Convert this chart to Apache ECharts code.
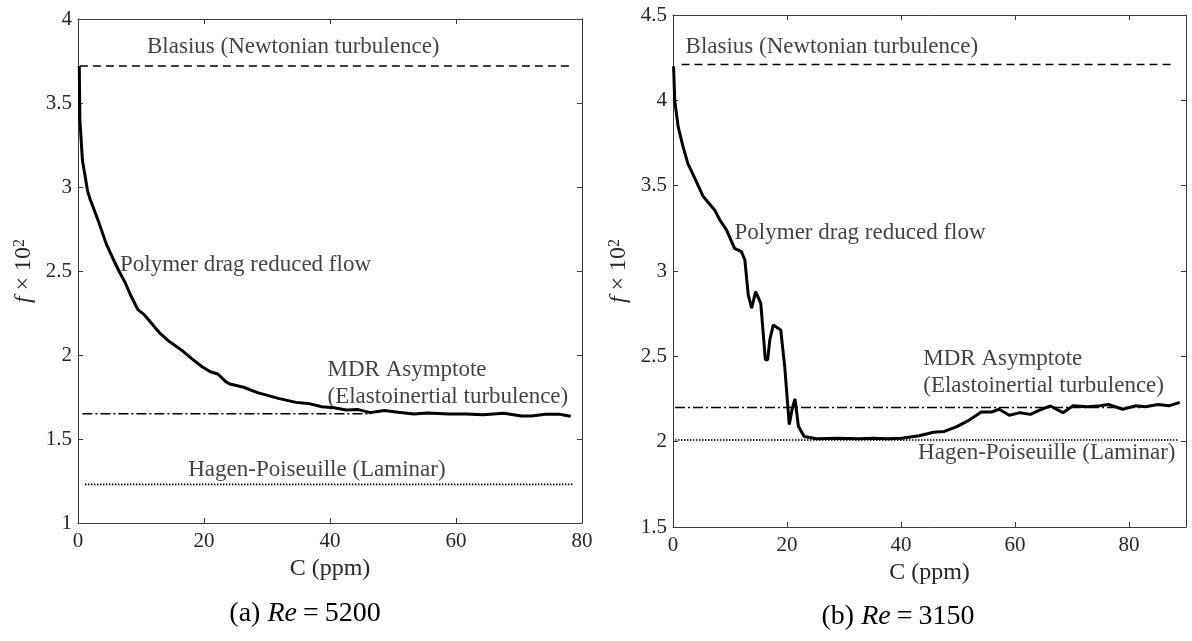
<!DOCTYPE html>
<html>
<head>
<meta charset="utf-8">
<script src="https://cdn.jsdelivr.net/npm/echarts@6/dist/echarts.min.js"></script>
<style>
  html, body { margin: 0; padding: 0; background: #fff; }
  #main { width: 1192px; height: 641px; }
</style>
</head>
<body>
<div id="main"></div>
<script>
// ---- data (C in ppm, f x 10^2) ----
// (a) Re = 5200
const curveA = [[0.2,3.72],[0.3,3.40],[0.7,3.16],[1.5,2.98],[1.9,2.93],[3.2,2.80],[4.5,2.66],[5.6,2.57],[6.5,2.50],[7.5,2.43],[8.3,2.36],[9.5,2.27],[10.5,2.24],[11.2,2.21],[13.0,2.13],[14.5,2.08],[16.4,2.03],[18.0,1.98],[19.7,1.93],[21.0,1.90],[22.2,1.887],[23.5,1.84],[24.1,1.827],[26.3,1.808],[28.5,1.776],[31.8,1.742],[34.6,1.718],[36.5,1.712],[38.7,1.692],[40.6,1.686],[42.6,1.673],[44.5,1.675],[46.4,1.657],[48.6,1.669],[50.8,1.659],[53.3,1.649],[55.5,1.655],[58.8,1.649],[61.6,1.649],[64.3,1.645],[67.6,1.653],[70.4,1.637],[72.0,1.637],[74.2,1.647],[76.4,1.647],[78.2,1.635]];
const blasiusA = [[0.3,3.72],[78,3.72]];
const mdrA = [[0.7,1.65],[46.5,1.65]];
const hagenA = [[1.1,1.23],[78.6,1.23]];

// (b) Re = 3150
const curveB = [[0.1,4.20],[0.3,4.00],[0.9,3.846],[1.76,3.729],[2.6,3.631],[4.1,3.524],[5.3,3.436],[7.3,3.358],[8.2,3.30],[9.4,3.24],[10.8,3.133],[12.0,3.113],[12.6,3.066],[13.2,2.86],[13.8,2.782],[14.5,2.879],[15.4,2.81],[16.2,2.48],[16.6,2.48],[17.0,2.60],[17.6,2.684],[18.9,2.655],[19.6,2.44],[20.4,2.10],[20.9,2.19],[21.4,2.25],[22.0,2.09],[23.0,2.03],[25.2,2.017],[28.9,2.02],[32.6,2.017],[35.1,2.02],[37.6,2.017],[40.1,2.02],[43.2,2.035],[45.7,2.055],[47.6,2.06],[49.7,2.087],[51.9,2.125],[54.1,2.174],[55.9,2.174],[57.2,2.19],[59.0,2.155],[60.9,2.17],[62.7,2.16],[64.3,2.185],[66.2,2.209],[68.4,2.17],[70.2,2.21],[72.7,2.205],[74.9,2.21],[76.4,2.218],[78.9,2.19],[81.1,2.21],[82.9,2.205],[85.1,2.218],[87.0,2.21],[88.9,2.23]];
const blasiusB = [[1.5,4.21],[88,4.21]];
const mdrB = [[0.35,2.20],[82.3,2.20]];
const hagenB = [[0.35,2.01],[88.5,2.01]];

// annotations: [C, f, text]
const notesA = [
  [10.95, 3.833, 'Blasius (Newtonian turbulence)'],
  [6.67, 2.536, 'Polymer drag reduced flow'],
  [39.6, 1.830, 'MDR Asymptote\n(Elastoinertial turbulence)'],
  [17.5, 1.315, 'Hagen-Poiseuille (Laminar)']
];
const notesB = [
  [2.2, 4.31, 'Blasius (Newtonian turbulence)'],
  [10.8, 3.223, 'Polymer drag reduced flow'],
  [43.9, 2.403, 'MDR Asymptote\n(Elastoinertial turbulence)'],
  [43.0, 1.934, 'Hagen-Poiseuille (Laminar)']
];

// axes
const xTicksA = [0, 20, 40, 60, 80];
const xTicksB = [0, 20, 40, 60, 80];
const yRangeA = [1, 4];
const yRangeB = [1.5, 4.5];
const xRangeA = [0, 80];
const xRangeB = [0, 90];

const FONT = 'Liberation Serif';
const AX = '#3a3a3a';
const TXT = '#262626';

let chart = echarts.init(document.getElementById('main'));

// 一组坐标轴（下/上，左/右，MATLAB box 风格）
const makeX = (grid, range, ticks, main) => ({
    type: 'value',
    gridIndex: grid,
    position: main ? 'bottom' : 'top',
    min: range[0],
    max: range[1],
    interval: 20,
    name: main ? 'C (ppm)' : '',
    nameLocation: 'middle',
    nameGap: 32,
    nameTextStyle: { fontFamily: FONT, fontSize: 24, color: TXT },
    axisLine: { show: true, onZero: false, lineStyle: { color: AX, width: 1 } },
    axisTick: { show: true, inside: true, length: 5, lineStyle: { color: AX },
        customValues: ticks },
    axisLabel: { show: main, fontFamily: FONT, fontSize: 21, color: TXT, margin: 8,
        customValues: ticks },
    splitLine: { show: false }
});

const makeY = (grid, range, main) => ({
    type: 'value',
    gridIndex: grid,
    position: main ? 'left' : 'right',
    min: range[0],
    max: range[1],
    interval: 0.5,
    name: main ? '{i|f} × 10{s|2}' : '',
    nameLocation: 'middle',
    nameRotate: 90,
    nameGap: 42,
    nameTextStyle: {
        fontFamily: FONT, fontSize: 24, color: TXT,
        rich: {
            i: { fontFamily: FONT, fontSize: 24, fontStyle: 'italic', color: TXT },
            s: { fontFamily: FONT, fontSize: 16, color: TXT, verticalAlign: 'top', lineHeight: 16, padding: [0, 0, 9, 0] }
        }
    },
    axisLine: { show: true, onZero: false, lineStyle: { color: AX, width: 1 } },
    axisTick: { show: true, inside: true, length: 5, lineStyle: { color: AX } },
    axisLabel: { show: main, fontFamily: FONT, fontSize: 21, color: TXT, margin: 6 },
    splitLine: { show: false }
});

const lineSeries = (data, xi, yi, type, width) => ({
    type: 'line',
    data: data,
    xAxisIndex: xi,
    yAxisIndex: yi,
    showSymbol: false,
    symbol: 'none',
    silent: true,
    lineStyle: { color: '#000', width: width, type: type },
    z: 2
});

const noteSeries = (data, xi, yi) => ({
    type: 'scatter',
    data: data,
    xAxisIndex: xi,
    yAxisIndex: yi,
    symbolSize: 0,
    silent: true,
    label: {
        show: true,
        position: 'right',
        distance: 0,
        formatter: (p) => p.value[2],
        fontFamily: FONT,
        fontSize: 23,
        lineHeight: 27,
        color: '#111',
        align: 'left'
    },
    z: 5
});

const captionStyle = {
    fontFamily: FONT, fontSize: 28, fontWeight: 'normal', color: '#000',
    rich: {
        i: { fontFamily: FONT, fontSize: 28, fontStyle: 'italic', color: '#000' },
        e: { fontFamily: FONT, fontSize: 28, color: '#000', padding: [0, 6, 0, 6] }
    }
};

chart.setOption({
    animation: false,
    backgroundColor: '#fff',
    title: [
        { text: '(a) {i|Re}{e|=}5200', left: 300, top: 595, textAlign: 'center', textStyle: captionStyle },
        { text: '(b) {i|Re}{e|=}3150', left: 893, top: 598, textAlign: 'center', textStyle: captionStyle }
    ],
    grid: [
        { left: 78, right: 610, top: 19, bottom: 118, containLabel: false },
        { left: 673, right: 6, top: 15, bottom: 114, containLabel: false }
    ],
    xAxis: [
        makeX(0, xRangeA, xTicksA, true),
        makeX(0, xRangeA, xTicksA, false),
        makeX(1, xRangeB, xTicksB, true),
        makeX(1, xRangeB, xTicksB, false)
    ],
    yAxis: [
        makeY(0, yRangeA, true),
        makeY(0, yRangeA, false),
        makeY(1, yRangeB, true),
        makeY(1, yRangeB, false)
    ],
    series: [
        lineSeries(blasiusA, 0, 0, [8, 5], 1.6),
        lineSeries(mdrA, 0, 0, [10, 3, 2, 3], 1.6),
        lineSeries(hagenA, 0, 0, [1.5, 1.5], 1.6),
        lineSeries(curveA, 0, 0, 'solid', 3),
        noteSeries(notesA, 0, 0),
        lineSeries(blasiusB, 2, 2, [8, 5], 1.6),
        lineSeries(mdrB, 2, 2, [10, 3, 2, 3], 1.6),
        lineSeries(hagenB, 2, 2, [1.5, 1.5], 1.6),
        lineSeries(curveB, 2, 2, 'solid', 3),
        noteSeries(notesB, 2, 2)
    ]
});
</script>
</body>
</html>
